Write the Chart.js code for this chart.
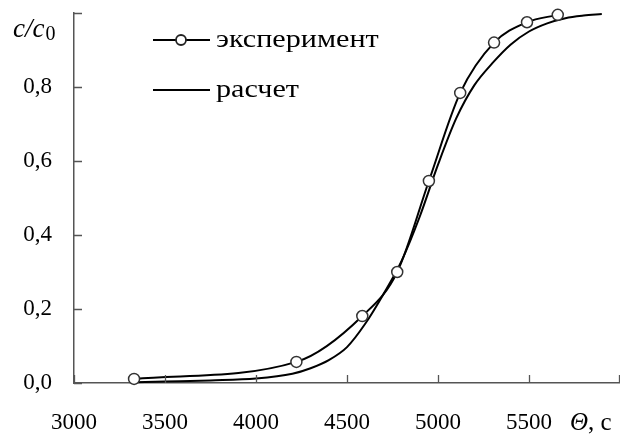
<!DOCTYPE html>
<html lang="ru">
<head>
  <meta charset="UTF-8">
  <title>c/c0 vs Θ</title>
  <script src="https://cdn.jsdelivr.net/npm/chart.js"></script>
  <style>
    body { margin: 0; background: #fff; }
    #wrap { width: 620px; height: 435px; }
  </style>
</head>
<body>
  <div id="wrap"><canvas id="chart" width="620" height="435"></canvas></div>

  <script>
    // experiment points (time, s / relative concentration)
    const expTime = [3330, 4222, 4584, 4776, 4950, 5122, 5308, 5489, 5658];
    const expConc = [0.011, 0.057, 0.181, 0.300, 0.546, 0.784, 0.920, 0.975, 0.995];

    // calculated curve
    const calcTime = [3330, 3500, 3750, 4000, 4200, 4300, 4400, 4500, 4600, 4700, 4800,
                      4900, 5000, 5100, 5200, 5300, 5400, 5500, 5600, 5700, 5800, 5900];
    const calcConc = [0.002, 0.004, 0.007, 0.012, 0.025, 0.040, 0.062, 0.097, 0.160, 0.240, 0.330,
                      0.450, 0.590, 0.715, 0.805, 0.865, 0.915, 0.950, 0.972, 0.986, 0.993, 0.997];

    const legendLabels = ['эксперимент', 'расчет'];
    const xTicksHidden = [6000];
    const yTicksHidden = [1];

    const serif = '"Liberation Serif", "Times New Roman", serif';
    const axisColor = '#555';

    const toXY = (xs, ys) => xs.map((x, i) => ({ x: x, y: ys[i] }));

    // inward tick marks
    const innerTicks = {
      id: 'innerTicks',
      afterDraw(chart) {
        const ctx = chart.ctx;
        const area = chart.chartArea;
        const xs = chart.scales.x, ys = chart.scales.y;
        ctx.save();
        ctx.strokeStyle = axisColor;
        ctx.lineWidth = 1.3;
        ctx.beginPath();
        xs.ticks.forEach(t => {
          const px = Math.min(Math.round(xs.getPixelForValue(t.value)) + 0.5, area.right - 0.5);
          ctx.moveTo(px, area.bottom);
          ctx.lineTo(px, area.bottom - 8);
        });
        ys.ticks.forEach(t => {
          const py = Math.round(ys.getPixelForValue(t.value)) + 0.5;
          ctx.moveTo(area.left, py);
          ctx.lineTo(area.left + 8, py);
        });
        ctx.stroke();
        ctx.restore();
      }
    };

    // axis titles and legend drawn at fixed places
    const annotations = {
      id: 'annotations',
      afterDraw(chart) {
        const ctx = chart.ctx;
        ctx.save();
        ctx.fillStyle = '#000';
        ctx.textBaseline = 'alphabetic';

        // y title c/c0
        ctx.font = 'italic 27px ' + serif;
        ctx.fillText('c/c', 13, 37);
        const w = ctx.measureText('c/c').width;
        ctx.font = '20px ' + serif;
        ctx.fillText('0', 13 + w + 1, 40);

        // x title Θ, с
        ctx.font = 'italic 25px ' + serif;
        ctx.fillText('Θ', 570, 430);
        const tw = ctx.measureText('Θ').width;
        ctx.font = '25px ' + serif;
        ctx.fillText(', с', 570 + tw, 430);

        // legend
        const rows = [40, 90];
        ctx.strokeStyle = '#000';
        ctx.lineWidth = 2.2;
        rows.forEach((y, i) => {
          ctx.beginPath();
          ctx.moveTo(153, y);
          ctx.lineTo(210, y);
          ctx.stroke();
          if (i === 0) {
            ctx.beginPath();
            ctx.arc(181, y, 5, 0, Math.PI * 2);
            ctx.fillStyle = '#fff';
            ctx.fill();
            ctx.lineWidth = 1.8;
            ctx.strokeStyle = '#222';
            ctx.stroke();
            ctx.lineWidth = 2.2;
            ctx.strokeStyle = '#000';
          }
          ctx.fillStyle = '#000';
          ctx.font = '26px ' + serif;
          ctx.save();
          ctx.translate(216, y + 7);
          ctx.scale(1.16, 1);
          ctx.fillText(legendLabels[i], 0, 0);
          ctx.restore();
        });
        ctx.restore();
      }
    };

    new Chart(document.getElementById('chart').getContext('2d'), {
      type: 'line',
      data: {
        datasets: [
          {
            label: legendLabels[0],
            data: toXY(expTime, expConc),
            borderColor: '#000',
            borderWidth: 2,
            cubicInterpolationMode: 'monotone',
            pointRadius: 5.5,
            pointBackgroundColor: '#fff',
            pointBorderColor: '#333',
            pointBorderWidth: 1.5,
            fill: false,
            clip: false,
            order: 0
          },
          {
            label: legendLabels[1],
            data: toXY(calcTime, calcConc),
            borderColor: '#000',
            borderWidth: 2,
            cubicInterpolationMode: 'monotone',
            pointRadius: 0,
            fill: false,
            clip: false,
            order: 1
          }
        ]
      },
      options: {
        responsive: false,
        animation: false,
        devicePixelRatio: 1,
        layout: { autoPadding: false, padding: { top: 13, right: 0, left: 0, bottom: 0 } },
        plugins: { legend: { display: false }, tooltip: { enabled: false } },
        scales: {
          x: {
            type: 'linear',
            min: 3000,
            max: 6000,
            grid: { display: true, drawOnChartArea: false, drawTicks: false },
            border: { display: true, color: axisColor, width: 1.5 },
            ticks: {
              stepSize: 500,
              padding: 26,
              color: '#000',
              font: { family: serif, size: 23 },
              maxRotation: 0,
              callback: v => xTicksHidden.includes(v) ? '' : String(v)
            },
            afterFit: s => { s.height = 52; s.paddingRight = 0; s.paddingLeft = 0; }
          },
          y: {
            min: 0,
            max: 1,
            grid: { display: true, drawOnChartArea: false, drawTicks: false },
            border: { display: true, color: axisColor, width: 1.5 },
            ticks: {
              stepSize: 0.2,
              padding: 22,
              color: '#000',
              font: { family: serif, size: 23 },
              callback: v => yTicksHidden.includes(v) ? '' : v.toFixed(1).replace('.', ',')
            },
            afterFit: s => { s.width = 74; s.paddingTop = 0; s.paddingBottom = 0; }
          }
        }
      },
      plugins: [innerTicks, annotations]
    });
  </script>
</body>
</html>
